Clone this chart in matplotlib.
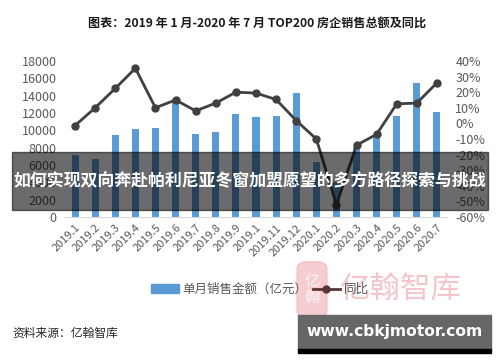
import matplotlib.pyplot as plt
from matplotlib.patches import Rectangle, FancyBboxPatch
from matplotlib.lines import Line2D
from matplotlib.ticker import FuncFormatter

plt.rcParams['font.family'] = ['Noto Sans CJK SC', 'DejaVu Sans']

# Data
months = ["2019.1", "2019.2", "2019.3", "2019.4", "2019.5", "2019.6", "2019.7",
          "2019.8", "2019.9", "2019.1", "2019.11", "2019.12", "2020.1", "2020.2",
          "2020.3", "2020.4", "2020.5", "2020.6", "2020.7"]
sales = [7100, 6700, 9500, 10100, 10300, 13600, 9600, 9800, 11900, 11550,
         11700, 14350, 6400, 4000, 8100, 9350, 11650, 15500, 12150]
yoy = [-1.4, 10, 22.4, 35.3, 10, 15, 8, 13, 20, 19.4, 15.3, 1.8, -10, -52,
       -14, -7, 12.5, 13, 26]

grey = '#595959'
fig = plt.figure(figsize=(5, 3.62), dpi=100)
ax = fig.add_axes([0.13, 0.4006, 0.764, 0.431])

x = range(len(months))
ax.bar(x, sales, width=0.35, color='#5b9bd5', zorder=2)
ax.set_ylim(0, 18000)
ax.set_yticks(range(0, 18001, 2000))
ax.set_xlim(-0.5, len(months) - 0.5)
ax.set_xticks(list(x))
ax.set_xticklabels(months, rotation=45, ha='right', rotation_mode='anchor',
                   fontsize=8, color=grey)
ax.tick_params(axis='y', length=0, pad=6, labelsize=9, labelcolor=grey)
ax.tick_params(axis='x', length=0, pad=4)
for s in ['top', 'left', 'right']:
    ax.spines[s].set_visible(False)
ax.spines['bottom'].set_color('#d9d9d9')

ax2 = ax.twinx()
ax2.plot(x, yoy, color='#404040', lw=2, marker='o', ms=5, zorder=3)
ax2.set_ylim(-60, 40)
ax2.set_yticks(range(-60, 41, 10))
ax2.yaxis.set_major_formatter(FuncFormatter(lambda v, p: f"{int(v)}%"))
ax2.tick_params(axis='y', length=0, pad=6, labelsize=9, labelcolor=grey)
for s in ['top', 'left', 'right', 'bottom']:
    ax2.spines[s].set_visible(False)

# title
fig.text(0.514, 0.936, "图表：2019 年 1 月-2020 年 7 月 TOP200 房企销售总额及同比",
         ha='center', va='center', fontsize=8.7, fontweight='bold', color='#1a1a1a')

# legend
handles = [Rectangle((0, 0), 1, 1, color='#5b9bd5'),
           Line2D([], [], color='#5a3535', lw=2, marker='o', ms=5)]
fig.legend(handles, ["单月销售金额（亿元）", "同比"], loc='center',
           bbox_to_anchor=(0.52, 0.2), ncol=2, frameon=False, fontsize=9,
           labelcolor=grey, handlelength=2.2, handletextpad=0.3, columnspacing=0.4)

# watermark
fig.patches.append(FancyBboxPatch((0.594, 0.122), 0.06, 0.155,
                                  boxstyle="round,pad=0,rounding_size=0.02",
                                  transform=fig.transFigure, color='#f2b8bd',
                                  alpha=0.7, zorder=0))
fig.text(0.624, 0.2, "亿\n翰", ha='center', va='center', fontsize=11,
         color='white', alpha=0.8, linespacing=0.9)
fig.text(0.8, 0.2, "亿翰智库", ha='center', va='center', fontsize=22,
         color='#f2b8bd', alpha=0.8)

# source
fig.text(0.024, 0.08, "资料来源：亿翰智库", ha='left', va='center', fontsize=8.5,
         color='#262626')

# site banner
fig.patches.append(Rectangle((0.596, 0.033), 0.386, 0.097,
                             transform=fig.transFigure, color='#666666', zorder=5))
fig.patches.append(Rectangle((0.596, 0.025), 0.386, 0.01,
                             transform=fig.transFigure, color='black', zorder=5))
fig.text(0.789, 0.083, "www.cbkjmotor.com", ha='center', va='center',
         fontsize=11.2, fontweight='bold', color='white', zorder=6,
         family=['DejaVu Sans'])

# overlay band with headline
fig.patches.append(Rectangle((0.024, 0.42), 0.952, 0.16,
                             transform=fig.transFigure, color='black',
                             alpha=0.58, zorder=10))
fig.text(0.5, 0.5, "如何实现双向奔赴帕利尼亚冬窗加盟愿望的多方路径探索与挑战",
         ha='center', va='center', fontsize=12.2, fontweight='bold',
         color='white', zorder=11)

fig.savefig("out.png", dpi=100)
